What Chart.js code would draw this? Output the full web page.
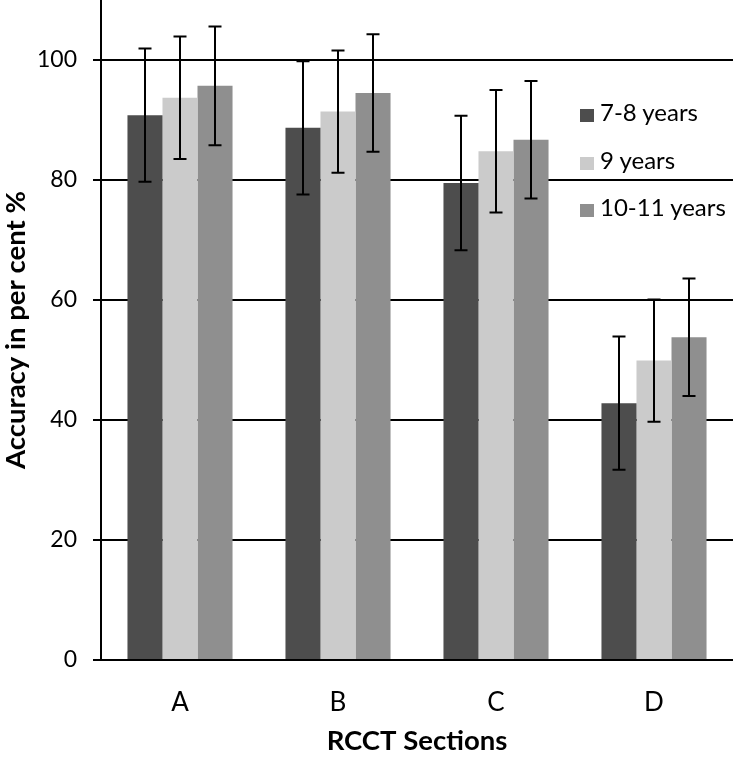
<!DOCTYPE html>
<html>
<head>
<meta charset="utf-8">
<script src="https://cdn.jsdelivr.net/npm/chart.js@4/dist/chart.umd.min.js"></script>
<style>
    body { margin: 0; background: #fff; }
    #wrap { position: relative; width: 733px; height: 758px; }
    #legend { position: absolute; left: 580px; top: 88px; font-family: Lato, sans-serif; font-size: 24px; color: #000; }
    #legend div { height: 47.5px; line-height: 47.5px; white-space: nowrap; }
    #legend span { display: inline-block; width: 14px; height: 13px; margin-right: 6px; vertical-align: -1px; }
</style>
</head>
<body>
<div id="wrap">
    <canvas id="chart" width="733" height="758"></canvas>
    <div id="legend"></div>
</div>
<script>
// Data
const sections = ['A', 'B', 'C', 'D'];
const seriesNames = ['7-8 years', '9 years', '10-11 years'];
const age78 = [90.8, 88.7, 79.5, 42.8];
const age9 = [93.7, 91.4, 84.8, 49.9];
const age1011 = [95.7, 94.5, 86.7, 53.8];
const err78 = [11.1, 11.1, 11.2, 11.1];
const err9 = [10.2, 10.2, 10.2, 10.2];
const err1011 = [9.9, 9.8, 9.8, 9.8];
const yTicks = [0, 20, 40, 60, 80, 100];

const colors = ['#4d4d4d', '#cbcbcb', '#8f8f8f'];
const values = [age78, age9, age1011];
const errors = [err78, err9, err1011];

// Error bars drawn with the y scale
const errorBars = {
    id: 'errorBars',
    afterDatasetsDraw(chart) {
        const ctx = chart.ctx;
        const y = chart.scales.y;
        ctx.save();
        ctx.strokeStyle = '#000';
        ctx.lineWidth = 2;
        chart.data.datasets.forEach((ds, i) => {
            const meta = chart.getDatasetMeta(i);
            meta.data.forEach((bar, j) => {
                const v = ds.data[j];
                const e = ds.errors[j];
                const top = y.getPixelForValue(v + e);
                const bot = y.getPixelForValue(v - e);
                const x = Math.round(bar.x);
                ctx.beginPath();
                ctx.moveTo(x, top);
                ctx.lineTo(x, bot);
                ctx.moveTo(x - 6.5, top);
                ctx.lineTo(x + 6.5, top);
                ctx.moveTo(x - 6.5, bot);
                ctx.lineTo(x + 6.5, bot);
                ctx.stroke();
            });
        });
        ctx.restore();
    }
};

const ctx = document.getElementById('chart').getContext('2d');
new Chart(ctx, {
    type: 'bar',
    data: {
        labels: sections,
        datasets: seriesNames.map((name, i) => ({
            label: name,
            data: values[i],
            errors: errors[i],
            backgroundColor: colors[i],
            borderWidth: 0,
            barPercentage: 1,
            categoryPercentage: 0.665
        }))
    },
    options: {
        responsive: false,
        animation: false,
        devicePixelRatio: 1,
        layout: { padding: 0 },
        plugins: {
            legend: { display: false },
            tooltip: { enabled: false }
        },
        scales: {
            x: {
                grid: { display: false, drawTicks: false },
                border: { display: true, color: '#000', width: 2 },
                ticks: {
                    color: '#000',
                    padding: 27,
                    font: { family: 'Lato', size: 26 }
                },
                title: {
                    display: true,
                    text: 'RCCT Sections',
                    color: '#000',
                    padding: 0,
                    font: { family: 'Lato', size: 27.5, weight: 'bold' }
                },
                afterFit(scale) {
                    scale.height = 98;
                    scale.paddingLeft = 0;
                    scale.paddingRight = 0;
                }
            },
            y: {
                min: 0,
                max: 110,
                afterBuildTicks(scale) {
                    scale.ticks = yTicks.map(v => ({ value: v }));
                },
                grid: {
                    color: '#000',
                    lineWidth: 2,
                    drawTicks: true,
                    tickLength: 8
                },
                border: { display: true, color: '#000', width: 2 },
                ticks: {
                    color: '#000',
                    padding: 16,
                    font: { family: 'Lato', size: 23 }
                },
                title: {
                    display: true,
                    text: 'Accuracy in per cent %',
                    color: '#000',
                    padding: 0,
                    font: { family: 'Lato', size: 27.5, weight: 'bold' }
                },
                afterFit(scale) {
                    scale.width = 101;
                    scale.paddingTop = 0;
                    scale.paddingBottom = 0;
                }
            }
        }
    },
    plugins: [errorBars]
});

// Legend inside the plot, on the right
document.getElementById('legend').innerHTML = seriesNames
    .map((name, i) => `<div><span style="background:${colors[i]}"></span>${name}</div>`)
    .join('');
</script>
</body>
</html>
